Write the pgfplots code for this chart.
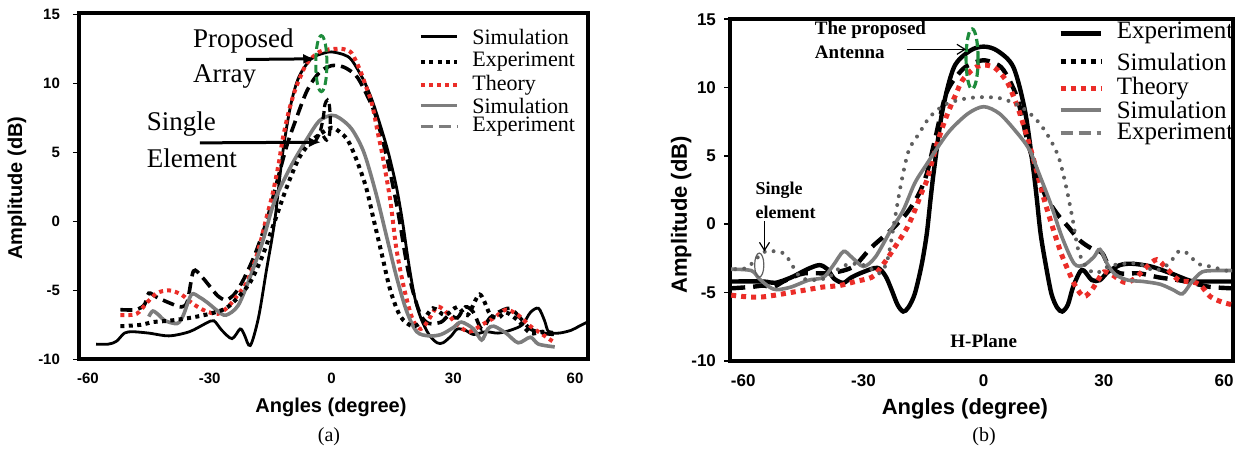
\documentclass[border=0pt]{standalone}
\usepackage{fontspec}
\setmainfont{Liberation Serif}
\newfontfamily\arial{Liberation Sans}
\usepackage{pgfplots}
\pgfplotsset{compat=1.18}
\usetikzlibrary{arrows.meta}
\definecolor{thred}{RGB}{235,45,40}
\definecolor{lgray}{RGB}{125,125,125}
\definecolor{dgray}{RGB}{95,95,95}
\definecolor{elgreen}{RGB}{30,140,60}

\pgfplotsset{
  panel/.style={
    scale only axis, anchor=south west,
    axis line style={line width=2pt},
    xtick={-60,-30,0,30,60}, xticklabels={-60,-30,0,30,60},
    ytick={-10,-5,0,5,10,15}, yticklabels={-10,-5,0,5,10,15},
    xtick style={draw=none},
    ytick pos=left, tick align=outside, major tick length=3pt,
    ytick style={line width=0.8pt, black},
    ymin=-10,
  },
}

\begin{document}
\begin{tikzpicture}
\path[use as bounding box] (0pt,0pt) rectangle (619pt,225pt);

% ---------------- (a) ----------------
\begin{axis}[panel,
  at={(39.5pt,45.35pt)}, width=254.5pt, height=173pt,
  xmin=-62.2, xmax=63.2, ymax=15.1,
  ticklabel style={font=\arial\bfseries\fontsize{7.5}{9}\selectfont},
  xticklabel style={yshift=-0.5pt},
  yticklabel style={xshift=-3pt},
  xlabel={Angles (degree)}, ylabel={Amplitude (dB)},
  label style={font=\arial\bfseries\fontsize{10}{12}\selectfont},
  xlabel style={at={(axis description cs:0.495,-0.138)}, anchor=center},
  ylabel style={at={(axis description cs:-0.122,0.495)}, anchor=center},
]
% array simulation
\addplot[black, line width=1.4pt, smooth] table {
-58 -8.9
-55 -8.9
-53 -8.7
-51 -8.1
-49 -8.0
-45 -8.1
-40 -8.3
-35 -8.0
-31 -7.4
-29 -7.2
-27 -7.9
-24.5 -8.5
-22.5 -7.8
-21.5 -8.2
-20 -9.0
-18 -7.0
-16 -3.5
-14 0.0
-12 5.0
-10 8.5
-8 10.5
-5 11.8
-2 12.2
0 12.3
3 12.1
5 11.7
8 10.2
10 8.8
12 7.0
14 5.0
16 2.5
17.5 0.0
19 -3.0
20.5 -5.5
22 -7.0
24 -8.2
26 -8.8
27.5 -8.8
29.5 -8.3
31 -7.8
33 -7.9
35 -8.2
38 -8.0
41 -8.1
44 -7.9
47 -7.5
49 -6.6
51 -6.3
52.5 -7.2
53.5 -8.0
56 -8.1
59 -7.9
61 -7.6
63 -7.3
};
% array experiment
\addplot[black, line width=1.8pt, dash pattern=on 6pt off 3pt, smooth] table {
-52 -6.4
-48 -6.4
-46 -6.0
-45 -5.2
-43 -5.5
-40 -5.9
-37 -6.2
-35.5 -5.8
-34 -3.6
-32 -4.0
-30 -4.7
-28 -5.4
-26 -5.7
-24 -5.3
-22 -4.4
-19 -2.5
-16 0.0
-13.5 2.8
-11 5.5
-9 7.2
-6 9.5
-3 10.8
0 11.3
3 11.2
6 10.6
8 9.6
10.5 8.0
12.5 6.0
14.5 3.5
16.5 0.5
18.5 -3.0
20 -5.0
22 -6.8
24 -7.4
27 -7.3
29 -6.8
31 -7.0
33 -6.2
35 -6.6
37 -7.8
39 -7.0
41 -6.6
44 -6.3
46.5 -7.0
49 -7.8
52 -8.1
55 -8.2
};
% theory
\addplot[thred, line width=2pt, dash pattern=on 2pt off 2pt, smooth] table {
-52 -6.8
-48 -6.7
-45.5 -5.9
-43 -5.2
-40 -5.0
-37 -5.3
-34 -6.0
-31 -6.5
-28 -6.7
-25.5 -6.2
-23 -5.3
-21 -4.5
-19 -3.0
-17.5 -1.5
-16 0.3
-14.5 2.0
-13 4.2
-12 6.0
-10.5 8.0
-9 9.5
-7.5 10.6
-6 11.5
-3 12.3
0 12.5
3 12.5
5 12.2
7 11.0
8.5 9.8
10 8.5
11.5 6.3
12.5 4.9
14.5 1.5
16 -2.0
18 -5.0
20 -7.1
22 -7.8
24 -7.1
26 -6.2
28 -6.5
31 -7.5
34 -8.0
37 -7.5
40 -7.0
43 -6.4
46 -6.8
49 -7.6
52 -8.2
55 -8.8
};
% single element simulation
\addplot[lgray, line width=1.8pt, smooth] table {
-45 -6.9
-44 -6.5
-42.5 -6.8
-41 -7.2
-38 -7.4
-36.5 -6.8
-34.5 -5.3
-32.5 -5.5
-30.5 -5.9
-28 -6.5
-26 -6.8
-23 -6.1
-20 -4.0
-17 -1.5
-14 1.5
-10 4.0
-6 6.0
-3 7.3
0 7.7
2 7.5
5 6.7
8 5.0
11 2.0
13.5 -1.0
16 -4.0
18.5 -6.5
21 -8.0
24 -8.3
27 -8.2
30 -7.7
32 -7.3
35 -7.8
37 -8.6
38.5 -7.8
40 -7.6
43 -8.1
46 -8.8
49 -8.4
51 -8.9
55 -9.1
};
% single element experiment
\addplot[black, line width=2pt, dash pattern=on 2pt off 2.2pt, smooth] table {
-52 -7.6
-47 -7.5
-44 -7.3
-40 -7.2
-35 -7.0
-30 -6.7
-26 -6.3
-23 -5.5
-20 -4.4
-17 -2.5
-14 0.0
-11 2.5
-8 4.6
-5 5.8
-3 6.3
0 6.8
2 6.5
4 5.9
6 4.6
8.5 2.5
10.5 0.0
12.5 -2.5
14.5 -5.0
17 -6.9
20 -7.6
22.5 -7.2
25 -6.3
28 -6.8
31 -6.2
33.5 -6.8
36.5 -5.3
39 -6.7
41 -7.0
43 -6.6
46 -7.2
49 -8.1
52 -8.0
55 -8.1
};
\addplot[black, line width=1.6pt, dash pattern=on 4pt off 2pt, smooth] table {
-4 5.8
-2.8 6.5
-2 7.6
-1.6 8.5
-1 8.8
-0.5 8.4
-0.3 7.3
-0.5 6.3
-1.2 5.9
-2 6.2
};
\draw[elgreen, line width=1.5pt, dash pattern=on 4pt off 2pt] (axis cs:-2.5,11.45) ellipse [x radius=2.8pt, y radius=14pt];
% annotations
\node[anchor=west, inner sep=0, font=\fontsize{13.5}{14}\selectfont] at (axis cs:-34.2,13.1) {Proposed};
\node[anchor=west, inner sep=0, font=\fontsize{13.5}{14}\selectfont] at (axis cs:-34.2,10.5) {Array};
\draw[line width=1.5pt, -{Latex[length=6pt,width=5pt]}] (axis cs:-21,11.75) -- (axis cs:-4,11.8);
\node[anchor=west, inner sep=0, font=\fontsize{13.5}{14}\selectfont] at (axis cs:-45.6,7.1) {Single};
\node[anchor=west, inner sep=0, font=\fontsize{13.5}{14}\selectfont] at (axis cs:-45.6,4.55) {Element};
\draw[line width=1.5pt, -{Latex[length=6pt,width=5pt]}] (axis cs:-32.4,5.7) -- (axis cs:-2.6,5.75);
% legend
\draw[black, line width=1.6pt] (axis cs:22,13.4) -- (axis cs:31,13.4);
\draw[black, line width=2pt, dash pattern=on 2pt off 2.2pt] (axis cs:22,11.6) -- (axis cs:31,11.6);
\draw[thred, line width=2pt, dash pattern=on 2pt off 2pt] (axis cs:22,9.9) -- (axis cs:31,9.9);
\draw[lgray, line width=1.8pt] (axis cs:22,8.4) -- (axis cs:31,8.4);
\draw[lgray, line width=1.8pt, dash pattern=on 6pt off 3pt] (axis cs:22,6.9) -- (axis cs:31,6.9);
\node[anchor=west, inner sep=0, font=\fontsize{11}{12}\selectfont] at (axis cs:34.6,13.4) {Simulation};
\node[anchor=west, inner sep=0, font=\fontsize{11}{12}\selectfont] at (axis cs:34.6,11.6) {Experiment};
\node[anchor=west, inner sep=0, font=\fontsize{11}{12}\selectfont] at (axis cs:34.6,9.9) {Theory};
\node[anchor=west, inner sep=0, font=\fontsize{11}{12}\selectfont] at (axis cs:34.6,8.4) {Simulation};
\node[anchor=west, inner sep=0, font=\fontsize{11}{12}\selectfont] at (axis cs:34.6,6.9) {Experiment};
\end{axis}

% ---------------- (b) ----------------
\begin{axis}[panel,
  at={(365pt,44.65pt)}, width=251.5pt, height=170.7pt,
  xmin=-63.3, xmax=62.2, ymax=15,
  ticklabel style={font=\arial\bfseries\fontsize{8.5}{10}\selectfont},
  xticklabel style={yshift=-0.5pt},
  yticklabel style={xshift=-0.5pt},
  xlabel={Angles (degree)}, ylabel={Amplitude (dB)},
  label style={font=\arial\bfseries\fontsize{11}{13}\selectfont},
  xlabel style={at={(axis description cs:0.467,-0.141)}, anchor=center},
  ylabel style={at={(axis description cs:-0.097,0.427)}, anchor=center},
]
% experiment
\addplot[black, line width=2.2pt, smooth] table {
-63 -4.2
-55 -4.2
-52 -4.3
-48 -3.9
-44 -3.3
-41 -3.0
-39 -3.3
-37.3 -4.0
-35 -4.3
-33 -3.9
-30 -3.5
-26.5 -3.2
-24.5 -3.8
-23 -4.8
-21.5 -5.9
-20.1 -6.4
-18.8 -6.1
-17.2 -5.1
-15.5 -3.0
-14.2 -0.7
-13.2 2.0
-12.3 4.2
-10.3 8.3
-7.4 11.5
-3.4 12.7
0 13.0
3.4 12.7
7.4 11.5
10.3 8.3
12.3 4.2
13.2 2.0
14.2 -0.7
15.5 -3.0
16.9 -5.1
18.3 -6.1
19.6 -6.4
21 -5.9
22.3 -4.6
24 -3.5
25 -3.4
27 -4.1
29 -4.1
31 -3.5
34 -3.0
37 -2.9
41.7 -3.1
46.7 -3.6
51.6 -4.15
55 -4.2
63 -4.2
};
% simulation
\addplot[black, line width=2.2pt, dash pattern=on 7pt off 4pt, smooth] table {
-63 -4.7
-58 -4.6
-55 -4.5
-52.5 -4.6
-50 -4.2
-47 -3.8
-44.7 -3.6
-41 -3.6
-38.8 -3.6
-35 -3.4
-32 -3.0
-28 -1.7
-23 -0.4
-19.2 0.8
-16.2 2.2
-14.2 3.7
-12.3 6.0
-9.3 9.6
-5.4 11.3
-2.5 11.8
0 12.0
2.5 11.8
4.9 11.3
8.3 9.3
10.8 6.2
12.8 4.2
15.2 2.2
18.2 0.8
21.1 -0.2
24 -1.2
27 -1.8
29.5 -2.1
31 -2.9
34 -3.6
38.8 -3.6
43.7 -3.9
48.6 -4.1
52.6 -4.35
56.5 -4.6
62 -4.7
};
% theory
\addplot[thred, line width=2.5pt, dash pattern=on 2.5pt off 2.5pt, smooth] table {
-63 -5.2
-60 -5.3
-56 -5.35
-52 -5.2
-48 -5.0
-44 -4.8
-40 -4.6
-36 -4.5
-32 -4.2
-28 -3.9
-26 -3.3
-24 -2.5
-21.1 -1.2
-19 -0.2
-17.2 1.0
-15.5 2.3
-14.2 3.2
-12.5 5.0
-11.3 6.2
-9.8 7.5
-8.3 8.6
-6.8 9.6
-5.4 10.5
-2.5 11.4
0 11.65
2.5 11.5
4 11.1
5.9 10.4
7.5 9.3
8.8 8.3
10.3 6.9
11.8 5.4
13.3 3.8
14.7 2.2
16.2 0.7
17.7 -0.7
19.4 -2.2
21.1 -3.4
23 -4.6
25 -5.3
27 -4.8
28.5 -4.1
30 -3.5
32 -3.7
34 -4.1
35.8 -4.3
38 -3.9
40.8 -3.1
43.2 -2.6
45.5 -3.2
48.6 -4.1
51 -4.2
53 -4.3
54.5 -4.6
56.5 -5.3
58.5 -5.6
60.5 -5.8
62 -5.9
};
% single element simulation
\addplot[lgray, line width=1.8pt, smooth] table {
-63 -3.3
-58 -3.4
-56 -4.0
-53.5 -4.6
-51.6 -4.8
-48 -4.6
-43.7 -4.1
-40 -3.9
-37.5 -3.0
-35 -2.0
-33 -2.4
-30 -3.1
-27 -2.4
-23.1 -0.4
-20.1 1.0
-17.2 3.0
-14.2 4.4
-11.3 5.7
-8.3 6.9
-3.9 8.1
0 8.6
3.9 8.1
8 6.8
11.3 5.5
13.8 3.7
16.7 1.5
19.6 -1.0
22.6 -2.9
25 -3.0
27.5 -2.4
29 -1.85
31 -3.0
32.9 -3.7
36 -4.1
39.8 -4.2
44 -4.4
47.2 -4.8
49.6 -5.1
52 -4.2
54.5 -3.5
58 -3.4
62 -3.4
};
% single element experiment
\addplot[dgray, line width=2pt, line cap=round, dash pattern=on 0pt off 4.5pt, smooth] table {
-62 -3.3
-59 -3.2
-57 -2.6
-54.5 -2.0
-52 -2.0
-49.6 -2.2
-47.6 -3.1
-45.7 -3.9
-42.7 -4.1
-38.8 -3.9
-35.4 -3.1
-31.9 -2.9
-29 -3.1
-26 -3.6
-24 -2.6
-22.1 0.5
-20.6 3.0
-18.7 5.4
-16.2 6.6
-13.3 7.9
-9.3 8.8
-4.4 9.2
0 9.3
4.4 9.2
9.3 8.6
13.3 7.6
16.2 6.4
18.7 4.9
20.6 2.7
22.1 0.5
23.6 -1.9
25.5 -3.1
28 -3.6
31 -3.1
34.9 -2.9
38.8 -2.9
42.7 -3.4
46.2 -2.9
48.6 -2.0
50.6 -2.1
53.5 -2.9
56.5 -3.1
60.4 -3.4
62 -3.5
};
\draw[elgreen, line width=1.6pt, dash pattern=on 4pt off 2pt] (axis cs:-2.9,12.1) ellipse [x radius=3pt, y radius=15pt];
\draw[dgray, line width=0.6pt] (axis cs:-56,-3.0) ellipse [x radius=2.3pt, y radius=6pt];
% annotations
\node[anchor=west, inner sep=0, font=\bfseries\fontsize{9.5}{11}\selectfont] at (axis cs:-42.2,14.2) {The proposed};
\node[anchor=west, inner sep=0, font=\bfseries\fontsize{9.5}{11}\selectfont] at (axis cs:-42.2,12.55) {Antenna};
\draw[line width=0.6pt, -{Straight Barb[length=4pt,width=5pt]}] (axis cs:-19.2,12.8) -- (axis cs:-4.4,12.8);
\node[anchor=west, inner sep=0, font=\bfseries\fontsize{9}{11}\selectfont] at (axis cs:-57,2.5) {Single};
\node[anchor=west, inner sep=0, font=\bfseries\fontsize{9}{11}\selectfont] at (axis cs:-57,0.9) {element};
\draw[line width=0.6pt, -{Straight Barb[length=4pt,width=5pt]}] (axis cs:-54.7,0.2) -- (axis cs:-54.7,-2.0);
\node[font=\bfseries\fontsize{9.5}{11}\selectfont] at (axis cs:0,-8.55) {H-Plane};
% legend
\draw[black, line width=2.4pt] (axis cs:19.2,13.97) -- (axis cs:29.2,13.97);
\draw[black, line width=2.5pt, dash pattern=on 2.5pt off 2.5pt] (axis cs:19.2,11.9) -- (axis cs:29.2,11.9);
\draw[thred, line width=2.5pt, dash pattern=on 2.5pt off 2.5pt] (axis cs:19.2,9.94) -- (axis cs:29.2,9.94);
\draw[lgray, line width=2pt] (axis cs:19.2,8.35) -- (axis cs:29.2,8.35);
\draw[lgray, line width=2pt, dash pattern=on 6pt off 3pt] (axis cs:19.2,6.64) -- (axis cs:29.2,6.64);
\node[anchor=west, inner sep=0, font=\fontsize{12.5}{13}\selectfont] at (axis cs:33.1,13.97) {Experiment};
\node[anchor=west, inner sep=0, font=\fontsize{12.5}{13}\selectfont] at (axis cs:33.1,11.9) {Simulation};
\node[anchor=west, inner sep=0, font=\fontsize{12.5}{13}\selectfont] at (axis cs:33.1,9.94) {Theory};
\node[anchor=west, inner sep=0, font=\fontsize{12.5}{13}\selectfont] at (axis cs:33.1,8.35) {Simulation};
\node[anchor=west, inner sep=0, font=\fontsize{12.5}{13}\selectfont] at (axis cs:33.1,6.64) {Experiment};
\end{axis}

% panel captions
\node[font=\fontsize{10}{12}\selectfont] at (164.5pt,6.5pt) {(a)};
\node[font=\fontsize{10}{12}\selectfont] at (492pt,6.5pt) {(b)};
\end{tikzpicture}
\end{document}
